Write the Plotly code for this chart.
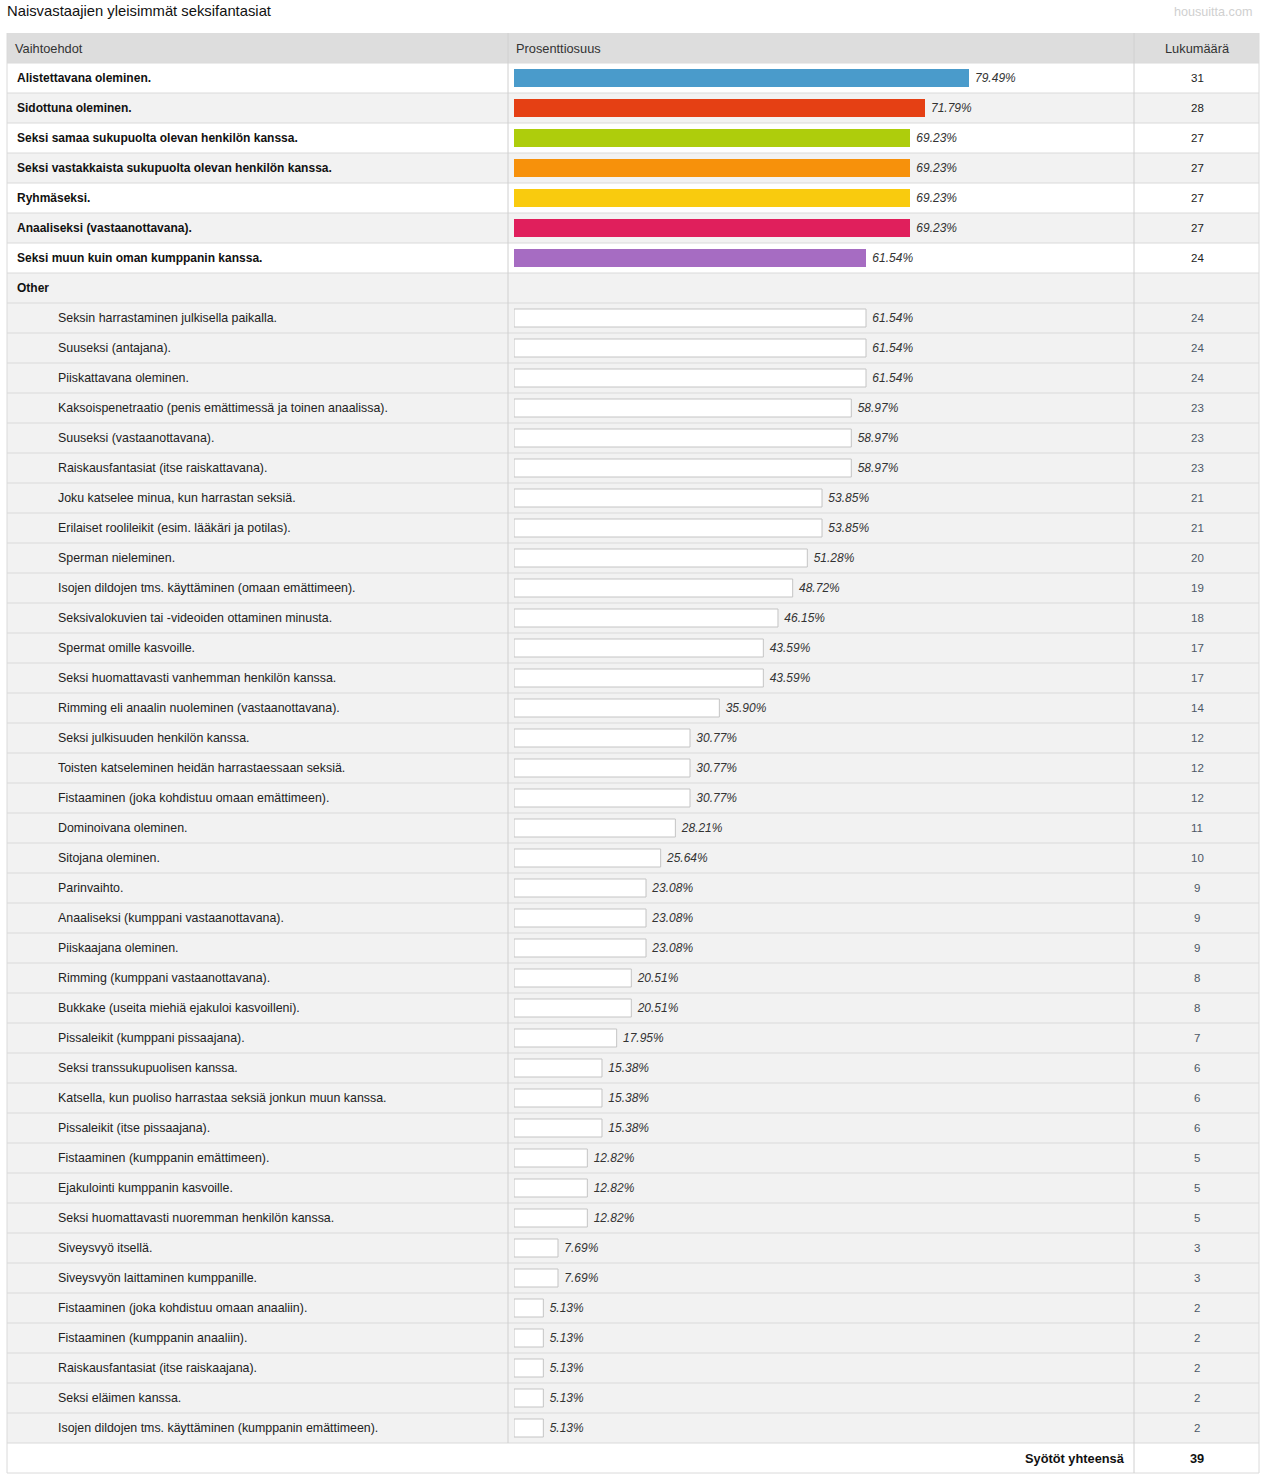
import plotly.graph_objects as go

W, H = 1266, 1484

title = "Naisvastaajien yleisimmät seksifantasiat"
source = "housuitta.com"
col_headers = ["Vaihtoehdot", "Prosenttiosuus", "Lukumäärä"]

main_labels = [
    "Alistettavana oleminen.",
    "Sidottuna oleminen.",
    "Seksi samaa sukupuolta olevan henkilön kanssa.",
    "Seksi vastakkaista sukupuolta olevan henkilön kanssa.",
    "Ryhmäseksi.",
    "Anaaliseksi (vastaanottavana).",
    "Seksi muun kuin oman kumppanin kanssa.",
]
main_pct = [79.49, 71.79, 69.23, 69.23, 69.23, 69.23, 61.54]
main_cnt = [31, 28, 27, 27, 27, 27, 24]
main_colors = ["#4a9bcb", "#e54014", "#aecd0c", "#f7910b", "#f9cb0e", "#e01f5c", "#a66cc2"]

other_header = "Other"
other_labels = [
    "Seksin harrastaminen julkisella paikalla.",
    "Suuseksi (antajana).",
    "Piiskattavana oleminen.",
    "Kaksoispenetraatio (penis emättimessä ja toinen anaalissa).",
    "Suuseksi (vastaanottavana).",
    "Raiskausfantasiat (itse raiskattavana).",
    "Joku katselee minua, kun harrastan seksiä.",
    "Erilaiset roolileikit (esim. lääkäri ja potilas).",
    "Sperman nieleminen.",
    "Isojen dildojen tms. käyttäminen (omaan emättimeen).",
    "Seksivalokuvien tai -videoiden ottaminen minusta.",
    "Spermat omille kasvoille.",
    "Seksi huomattavasti vanhemman henkilön kanssa.",
    "Rimming eli anaalin nuoleminen (vastaanottavana).",
    "Seksi julkisuuden henkilön kanssa.",
    "Toisten katseleminen heidän harrastaessaan seksiä.",
    "Fistaaminen (joka kohdistuu omaan emättimeen).",
    "Dominoivana oleminen.",
    "Sitojana oleminen.",
    "Parinvaihto.",
    "Anaaliseksi (kumppani vastaanottavana).",
    "Piiskaajana oleminen.",
    "Rimming (kumppani vastaanottavana).",
    "Bukkake (useita miehiä ejakuloi kasvoilleni).",
    "Pissaleikit (kumppani pissaajana).",
    "Seksi transsukupuolisen kanssa.",
    "Katsella, kun puoliso harrastaa seksiä jonkun muun kanssa.",
    "Pissaleikit (itse pissaajana).",
    "Fistaaminen (kumppanin emättimeen).",
    "Ejakulointi kumppanin kasvoille.",
    "Seksi huomattavasti nuoremman henkilön kanssa.",
    "Siveysvyö itsellä.",
    "Siveysvyön laittaminen kumppanille.",
    "Fistaaminen (joka kohdistuu omaan anaaliin).",
    "Fistaaminen (kumppanin anaaliin).",
    "Raiskausfantasiat (itse raiskaajana).",
    "Seksi eläimen kanssa.",
    "Isojen dildojen tms. käyttäminen (kumppanin emättimeen).",
]
other_pct = [61.54, 61.54, 61.54, 58.97, 58.97, 58.97, 53.85, 53.85, 51.28, 48.72,
             46.15, 43.59, 43.59, 35.90, 30.77, 30.77, 30.77, 28.21, 25.64, 23.08,
             23.08, 23.08, 20.51, 20.51, 17.95, 15.38, 15.38, 15.38, 12.82, 12.82,
             12.82, 7.69, 7.69, 5.13, 5.13, 5.13, 5.13, 5.13]
other_cnt = [24, 24, 24, 23, 23, 23, 21, 21, 20, 19, 18, 17, 17, 14, 12, 12, 12, 11, 10, 9,
             9, 9, 8, 8, 7, 6, 6, 6, 5, 5, 5, 3, 3, 2, 2, 2, 2, 2]
total_label = "Syötöt yhteensä"
total_count = 39

FONT = "Liberation Sans, Arial, sans-serif"

# row indices: 0 header, 1..7 main, 8 "Other", 9.. sub rows, last footer
main_rows = list(range(1, 1 + len(main_labels)))
other_row = 1 + len(main_labels)
sub_rows = list(range(other_row + 1, other_row + 1 + len(other_labels)))
footer_row = sub_rows[-1] + 1


def px(x):
    """page x pixel -> paper fraction"""
    return x / W


def tx(x):
    """left-anchored text start -> paper fraction (annotation padding)"""
    return px(x - 2)


L, R = px(7), px(1259)
SEP1, SEP2 = px(508), px(1134)
grid = "#dadada"
pct_font = dict(family=FONT, size=12, color="#333333", style="italic")
NBSP = "\u00a0"

fig = go.Figure()

fig.add_trace(go.Bar(
    x=main_pct, y=main_rows, orientation="h", width=0.62,
    marker=dict(color=main_colors, line=dict(width=0)),
    text=[f"{NBSP}{v:.2f}%" for v in main_pct], textposition="outside",
    textfont=pct_font, cliponaxis=False, hoverinfo="skip", showlegend=False,
))
fig.add_trace(go.Bar(
    x=other_pct, y=sub_rows, orientation="h", width=0.6,
    marker=dict(color="#ffffff", line=dict(width=1, color="#c4c4c4")),
    text=[f"{NBSP}{v:.2f}%" for v in other_pct], textposition="outside",
    textfont=pct_font, cliponaxis=False, hoverinfo="skip", showlegend=False,
))

shapes = []
shapes.append(dict(type="rect", xref="paper", yref="y", x0=L, x1=R, y0=-0.5, y1=0.5,
                   fillcolor="#dddddd", line=dict(width=0), layer="below"))
for i, r in enumerate(main_rows):
    col = "#ffffff" if i % 2 == 0 else "#f2f2f2"
    shapes.append(dict(type="rect", xref="paper", yref="y", x0=L, x1=R, y0=r - 0.5, y1=r + 0.5,
                       fillcolor=col, line=dict(width=0), layer="below"))
for r in [other_row] + sub_rows:
    shapes.append(dict(type="rect", xref="paper", yref="y", x0=L, x1=R, y0=r - 0.5, y1=r + 0.5,
                       fillcolor="#f2f2f2", line=dict(width=0), layer="below"))
for r in range(1, footer_row + 2):
    shapes.append(dict(type="line", xref="paper", yref="y", x0=L, x1=R, y0=r - 0.5, y1=r - 0.5,
                       line=dict(color=grid, width=1), layer="below"))
shapes.append(dict(type="line", xref="paper", yref="y", x0=L, x1=L, y0=-0.5, y1=footer_row + 0.5,
                   line=dict(color=grid, width=1), layer="below"))
shapes.append(dict(type="line", xref="paper", yref="y", x0=R, x1=R, y0=-0.5, y1=footer_row + 0.5,
                   line=dict(color=grid, width=1), layer="below"))
shapes.append(dict(type="line", xref="paper", yref="y", x0=SEP1, x1=SEP1, y0=-0.5, y1=footer_row - 0.5,
                   line=dict(color="#d0d0d0", width=1), layer="below"))
shapes.append(dict(type="line", xref="paper", yref="y", x0=SEP2, x1=SEP2, y0=-0.5, y1=footer_row + 0.5,
                   line=dict(color="#d0d0d0", width=1), layer="below"))

ann = []
ann.append(dict(text=title, xref="paper", yref="paper", x=tx(7), y=1 - 11 / H, xanchor="left",
                yanchor="middle", showarrow=False, font=dict(family=FONT, size=14.8, color="#111111")))
ann.append(dict(text=source, xref="paper", yref="paper", x=px(1254), y=1 - 12 / H, xanchor="right",
                yanchor="middle", showarrow=False, font=dict(family=FONT, size=12.6, color="#d0d0d0")))
hdr_font = dict(family=FONT, size=12.8, color="#333333")
ann.append(dict(text=col_headers[0], xref="paper", yref="y", x=tx(15), y=0, xanchor="left",
                showarrow=False, font=hdr_font))
ann.append(dict(text=col_headers[1], xref="paper", yref="y", x=tx(516), y=0, xanchor="left",
                showarrow=False, font=hdr_font))
ann.append(dict(text=col_headers[2], xref="paper", yref="y", x=px(1197), y=0, xanchor="center",
                showarrow=False, font=hdr_font))

bold = dict(family=FONT, size=12, color="#111111")
for lab, c, r in zip(main_labels, main_cnt, main_rows):
    ann.append(dict(text=f"<b>{lab}</b>", xref="paper", yref="y", x=tx(17), y=r, xanchor="left",
                    showarrow=False, font=bold))
    ann.append(dict(text=str(c), xref="paper", yref="y", x=px(1197), y=r, xanchor="center",
                    showarrow=False, font=dict(family=FONT, size=11.5, color="#222222")))
ann.append(dict(text=f"<b>{other_header}</b>", xref="paper", yref="y", x=tx(17), y=other_row,
                xanchor="left", showarrow=False, font=bold))
for lab, c, r in zip(other_labels, other_cnt, sub_rows):
    ann.append(dict(text=lab, xref="paper", yref="y", x=tx(58), y=r, xanchor="left",
                    showarrow=False, font=dict(family=FONT, size=12.4, color="#222222")))
    ann.append(dict(text=str(c), xref="paper", yref="y", x=px(1197), y=r, xanchor="center",
                    showarrow=False, font=dict(family=FONT, size=11.5, color="#4d5866")))
ann.append(dict(text=f"<b>{total_label}</b>", xref="paper", yref="y", x=px(1127), y=footer_row,
                xanchor="right", showarrow=False, font=dict(family=FONT, size=12.8, color="#111111")))
ann.append(dict(text=f"<b>{total_count}</b>", xref="paper", yref="y", x=px(1197), y=footer_row,
                xanchor="center", showarrow=False, font=dict(family=FONT, size=12.8, color="#111111")))

# y mapping: row centre at page pixel 48 + 30*r
c0 = 48
y_top = (0 - c0) / 30
y_bot = (H - c0) / 30

fig.update_layout(
    width=W, height=H, margin=dict(l=0, r=0, t=0, b=0),
    paper_bgcolor="#ffffff", plot_bgcolor="rgba(0,0,0,0)",
    xaxis=dict(domain=[px(514), px(514 + 572)], range=[0, 100], visible=False, fixedrange=True),
    yaxis=dict(range=[y_bot, y_top], visible=False, fixedrange=True),
    shapes=shapes, annotations=ann, bargap=0,
    font=dict(family=FONT),
)

# remove the default 8px page margin so the figure fills the window exactly
fig.write_html(
    "out.html",
    config={"displayModeBar": False, "staticPlot": True},
    post_script="document.body.style.margin='0';document.body.style.overflow='hidden';",
)
